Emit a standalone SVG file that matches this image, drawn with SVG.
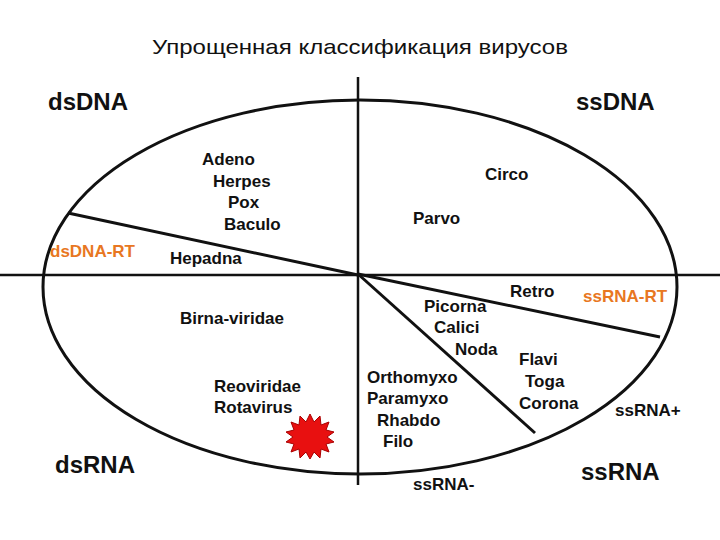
<svg xmlns="http://www.w3.org/2000/svg" width="720" height="540" viewBox="0 0 720 540">
<style>
text{font-family:"Liberation Sans",Arial,sans-serif;fill:#111}
.t{font-size:21px}
.big{font-size:24px;font-weight:bold}
.v{font-size:17px;font-weight:bold}
.o{fill:#e87722}
.ln{stroke:#111;fill:none}
</style>
<rect width="720" height="540" fill="#fff"/>
<g id="connectors">
<ellipse class="ln" cx="360" cy="287" rx="317" ry="187" stroke-width="3"/>
<line class="ln" x1="0" y1="275" x2="720" y2="275" stroke-width="2.5"/>
<line class="ln" x1="358" y1="77" x2="358" y2="485" stroke-width="2.5"/>
<line class="ln" x1="68" y1="213" x2="358" y2="275" stroke-width="3"/>
<line class="ln" x1="358" y1="274" x2="660" y2="337" stroke-width="3"/>
<line class="ln" x1="358" y1="274" x2="535" y2="433" stroke-width="3"/>
</g>
<g id="title"><text class="t" x="152" y="54" textLength="416" lengthAdjust="spacingAndGlyphs">Упрощенная классификация вирусов</text></g>
<g id="dsDNA"><text class="big" x="48" y="110">dsDNA</text>
<text class="v" x="202" y="165">Adeno</text><text class="v" x="213" y="187">Herpes</text><text class="v" x="228" y="208">Pox</text><text class="v" x="224" y="230">Baculo</text></g>
<g id="ssDNA"><text class="big" x="576" y="110">ssDNA</text>
<text class="v" x="485" y="180">Circo</text><text class="v" x="413" y="224">Parvo</text></g>
<g id="dsDNA-RT"><text class="v o" x="50" y="257">dsDNA-RT</text><text class="v" x="170" y="264">Hepadna</text></g>
<g id="dsRNA"><text class="v" x="180" y="324">Birna-viridae</text><text class="v" x="214" y="392">Reoviridae</text><text class="v" x="214" y="413">Rotavirus</text>
<polygon fill="#e81010" stroke="#a00" stroke-width="1" points="310,414 314,422 320,416 321,425 329,422 326,430 334,432 327,437 334,442 326,444 329,452 321,449 320,458 314,452 310,459 306,452 300,458 299,449 291,452 294,444 286,442 293,437 286,432 294,430 291,422 299,425 300,416 306,422"/>
<text class="big" x="55" y="473">dsRNA</text></g>
<g id="ssRNA-RT"><text class="v" x="510" y="297">Retro</text><text class="v o" x="583" y="302">ssRNA-RT</text></g>
<g id="ssRNA-plus"><text class="v" x="424" y="312">Picorna</text><text class="v" x="434" y="333">Calici</text><text class="v" x="455" y="355">Noda</text>
<text class="v" x="519" y="365">Flavi</text><text class="v" x="525" y="387">Toga</text><text class="v" x="519" y="409">Corona</text><text class="v" x="615" y="416">ssRNA+</text></g>
<g id="ssRNA-minus"><text class="v" x="367" y="383">Orthomyxo</text><text class="v" x="367" y="404">Paramyxo</text><text class="v" x="377" y="426">Rhabdo</text><text class="v" x="383" y="447">Filo</text><text class="v" x="413" y="490">ssRNA-</text></g>
<g id="ssRNA"><text class="big" x="581" y="480">ssRNA</text></g>
</svg>
